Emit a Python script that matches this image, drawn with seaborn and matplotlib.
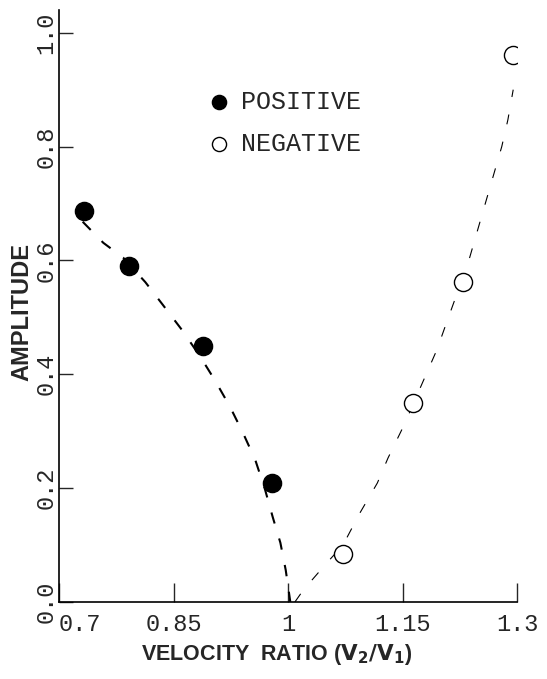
import matplotlib
matplotlib.use("Agg")
import matplotlib.pyplot as plt
import seaborn as sns
import pandas as pd

# measured points
pos_x = [0.733, 0.792, 0.889, 0.979]
pos_y = [0.687, 0.590, 0.450, 0.209]
neg_x = [1.072, 1.164, 1.229, 1.295]
neg_y = [0.084, 0.350, 0.562, 0.961]

# hand drawn fit curves
pos_fit_x = [0.731, 0.758, 0.784, 0.813, 0.836, 0.861, 0.885, 0.904, 0.924,
             0.941, 0.957, 0.970, 0.980, 0.990, 0.997, 1.003]
pos_fit_y = [0.668, 0.631, 0.605, 0.562, 0.522, 0.478, 0.431, 0.390, 0.343,
             0.297, 0.250, 0.197, 0.149, 0.104, 0.056, 0.000]
neg_fit_x = [1.009, 1.020, 1.051, 1.072, 1.094, 1.117, 1.131, 1.151, 1.179,
             1.195, 1.208, 1.236, 1.280, 1.288, 1.295]
neg_fit_y = [0.000, 0.021, 0.069, 0.100, 0.156, 0.209, 0.253, 0.308, 0.394,
             0.443, 0.492, 0.596, 0.800, 0.847, 0.900]

xticks = [0.7, 0.85, 1.0, 1.15, 1.3]
xtick_labels = ['0.7', '0.85', '1', '1.15', '1.3']
yticks = [0.0, 0.2, 0.4, 0.6, 0.8, 1.0]
ytick_labels = ['0.0', '0.2', '0.4', '0.6', '0.8', '1.0']

sns.set_style("ticks")
plt.rcParams['font.family'] = ['Liberation Mono', 'DejaVu Sans']

fig = plt.figure(figsize=(5.47, 6.79), dpi=100)
ax = fig.add_axes([0.1079, 0.1134, 0.8373, 0.8719])

df_pos = pd.DataFrame({'x': pos_fit_x, 'y': pos_fit_y})
df_neg = pd.DataFrame({'x': neg_fit_x, 'y': neg_fit_y})
sns.lineplot(data=df_pos, x='x', y='y', sort=False, color='black', lw=1.5,
             dashes=(5.5, 7.5), ax=ax)
sns.lineplot(data=df_neg, x='x', y='y', sort=False, color='black', lw=0.8,
             dashes=(9, 16), ax=ax)

sns.scatterplot(x=pos_x, y=pos_y, color='black', edgecolor='black', s=170,
                label='POSITIVE', zorder=3, ax=ax)
sns.scatterplot(x=neg_x, y=neg_y, color='white', edgecolor='black', s=170,
                linewidth=1.0, label='NEGATIVE', zorder=3, ax=ax)

ax.set_xlim(0.7, 1.3)
ax.set_ylim(0, 1.04)
ax.set_xticks(xticks)
ax.set_xticklabels(xtick_labels)
ax.get_xticklabels()[0].set_horizontalalignment('left')
ax.set_yticks(yticks)
ax.set_yticklabels(ytick_labels, rotation=90, va='center')
ax.tick_params(axis='x', direction='in', length=14, width=1, pad=8, labelsize=17)
ax.tick_params(axis='y', direction='in', length=10, width=1, pad=1, labelsize=17)
sns.despine(ax=ax)
for s in ['left', 'bottom']:
    ax.spines[s].set_linewidth(1.2)
    ax.spines[s].set_color('black')

ax.set_xlabel(r'VELOCITY  RATIO ($\mathbf{V_2/V_1}$)', fontsize=15.5,
              fontweight='bold', family='Liberation Sans')
ax.set_ylabel('AMPLITUDE', fontsize=17, fontweight='bold', family='Liberation Sans')
ax.xaxis.set_label_coords(0.474, -0.068)
ax.yaxis.set_label_coords(-0.057, 0.49)

leg = ax.legend(loc='center left', bbox_to_anchor=(0.336, 0.819),
                bbox_transform=fig.transFigure, frameon=False, markerscale=0.78,
                handlelength=1.0, handletextpad=0.4, labelspacing=0.72, fontsize=18)

fig.savefig('out.png', dpi=100)
